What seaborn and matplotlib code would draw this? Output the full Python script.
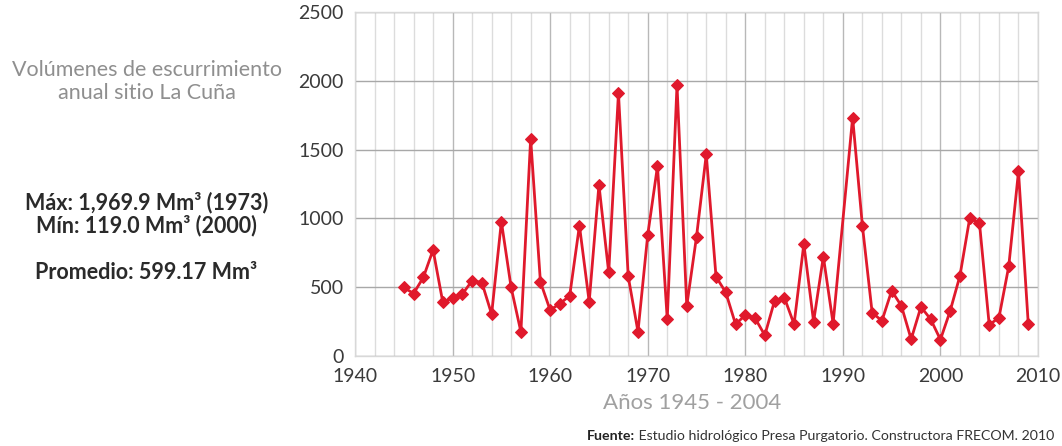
"""Volumenes de escurrimiento anual, sitio La Cuna."""

import matplotlib
import matplotlib.pyplot as plt
import numpy as np
import pandas as pd
import seaborn as sns
from matplotlib.ticker import MultipleLocator

matplotlib.use("Agg")

# data (1990 has no point in the source chart)
years = list(range(1945, 1990)) + list(range(1991, 2010))
volumes = [
    498, 454, 571, 771, 389, 425, 450, 547, 534, 304,
    977, 498, 175, 1580, 539, 333, 381, 437, 948, 394,
    1244, 607, 1912, 578, 177, 880, 1380, 267, 1969.9, 364,
    867, 1465, 576, 462, 231, 297, 275, 151, 401, 425,
    231, 814, 250, 722, 236,
    1733, 948, 316, 255, 474, 364, 122, 357, 267, 119.0,
    328, 583, 1001, 967, 226, 279, 651, 1341, 236,
]
y_ticks = [0, 500, 1000, 1500, 2000, 2500]
x_ticks = [1940, 1950, 1960, 1970, 1980, 1990, 2000, 2010]

title_lines = "Volúmenes de escurrimiento\nanual sitio La Cuña"
stats_lines = ["Máx: 1,969.9 Mm³ (1973)", "Mín: 119.0 Mm³ (2000)"]
mean_line = "Promedio: 599.17 Mm³"
x_title = "Años 1945 - 2004"
source_bold = "Fuente:"
source_rest = " Estudio hidrológico Presa Purgatorio. Constructora FRECOM. 2010"

RED = "#e0192c"

df = pd.DataFrame({"year": years, "volume": volumes})

sns.set_theme(style="white")
plt.rcParams["font.family"] = ["Lato", "DejaVu Sans"]

fig = plt.figure(figsize=(10.62, 4.46), dpi=100)
ax = fig.add_axes([0.3343, 0.2018, 0.6431, 0.7713])

sns.lineplot(
    data=df, x="year", y="volume", ax=ax, color=RED, linewidth=2.0,
    marker="D", markersize=6, markeredgecolor=RED, markerfacecolor=RED,
)

ax.set_xlim(1940, 2010)
ax.set_ylim(0, 2500)
ax.set_xticks(x_ticks)
ax.set_yticks(y_ticks)
ax.xaxis.set_minor_locator(MultipleLocator(2))
ax.grid(which="minor", axis="x", color="#dcdcdc", linewidth=1.0)
ax.grid(which="major", axis="x", color="#b8b8b8", linewidth=1.0)
ax.grid(which="major", axis="y", color="#a8a8a8", linewidth=1.0)
ax.set_axisbelow(True)
for side in ax.spines.values():
    side.set_color("#d8d8d8")
    side.set_linewidth(1.0)
ax.tick_params(axis="both", which="both", length=0, labelsize=14,
               labelcolor="#3a3a3a")
ax.tick_params(axis="y", pad=8)
ax.tick_params(axis="x", pad=9)
ax.set_xlabel("")
ax.set_ylabel("")

fig.text(0.138, 0.818, title_lines, ha="center", va="center", fontsize=15.5,
         color="#8f8f8f", linespacing=1.2)
fig.text(0.138, 0.52, "\n".join(stats_lines), ha="center", va="center",
         fontsize=15.5, fontweight="bold", color="#2a2a2a", linespacing=1.1)
fig.text(0.138, 0.388, mean_line, ha="center", va="center",
         fontsize=15.5, fontweight="bold", color="#2a2a2a")
fig.text(0.652, 0.096, x_title, ha="center", va="center", fontsize=16,
         color="#a0a0a0")

src = fig.text(0.993, 0.022, source_rest, ha="right", va="center",
               fontsize=10.2, color="#333333")
fig.canvas.draw()
bb = src.get_window_extent()
fig.text(bb.x0 / fig.bbox.width, 0.022, source_bold, ha="right", va="center",
         fontsize=10.2, fontweight="bold", color="#222222")

fig.savefig("out.png", dpi=100)
